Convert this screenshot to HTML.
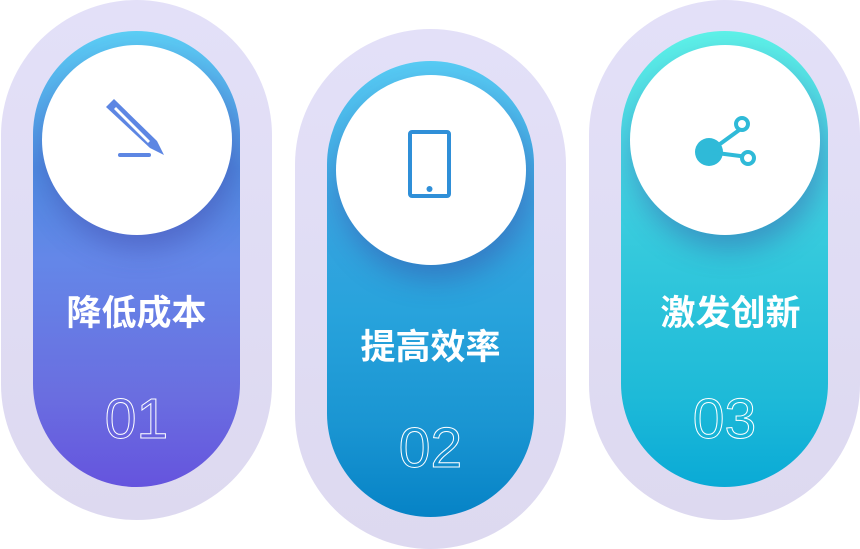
<!DOCTYPE html>
<html><head><meta charset="utf-8"><style>
body{margin:0;width:860px;height:549px;background:#fff;position:relative;overflow:hidden;font-family:"Liberation Sans","Noto Sans CJK SC",sans-serif}
.o{position:absolute;width:271px;height:520px;border-radius:136px;background:linear-gradient(#e3e0f8,#ddd9f0)}
.i{position:absolute;left:32px;top:31px;width:207px;height:456px;border-radius:104px;overflow:hidden}
.c{position:absolute;left:9px;top:14px;width:190px;height:190px;border-radius:50%;background:radial-gradient(circle at 50% 45%,#fff 75%,#f1f1f1 100%);box-shadow:4px 14px 28px rgba(60,50,150,.35)}
.t{position:absolute;left:0;width:207px;text-align:center;color:#fff;font-size:35px;font-weight:bold;top:260px;line-height:46px}
.n{position:absolute;left:0;width:207px;text-align:center;color:transparent;-webkit-text-stroke:1px #fff;font-size:57px;line-height:57px;top:360px;font-family:"Liberation Sans",sans-serif}
</style></head><body>
<div class="o" style="left:1px;top:0">
 <div class="i" style="background:linear-gradient(#5ccff5 0%,#4e8ae0 30%,#6487e8 50%,#6a6ee0 80%,#6554de 100%)">
  <div class="c"><svg width="190" height="190" style="position:absolute;left:0;top:0"><g fill="#5d86e3"><polygon points="64,62 72,54 115,96 122,110 108,103"/><polygon points="72,64 74,62 108,96 106,98" fill="#fff"/><rect x="76" y="108" width="33" height="4" rx="2"/></g></svg></div>
  <div class="t">降低成本</div><div class="n">01</div>
 </div>
</div>
<div class="o" style="left:295px;top:29px">
 <div class="i" style="top:32px;background:linear-gradient(#58ccf4 0%,#3aa4e0 30%,#28a3dc 55%,#1a95d2 80%,#0683c6 100%)">
  <div class="c"><svg width="190" height="190" style="position:absolute;left:0;top:0"><rect x="74" y="57" width="39" height="64" rx="2" fill="none" stroke="#2f8fd8" stroke-width="4"/><circle cx="93.5" cy="114" r="3" fill="#2f8fd8"/></svg></div>
  <div class="t" style="top:264px">提高效率</div><div class="n" style="top:359px">02</div>
 </div>
</div>
<div class="o" style="left:589px;top:0">
 <div class="i" style="background:linear-gradient(#5ef2e8 0%,#48d4e2 25%,#33c8dc 50%,#1ebad8 80%,#0aaad6 100%)">
  <div class="c"><svg width="190" height="190" style="position:absolute;left:0;top:0"><g fill="#2fbad8" stroke="#2fbad8"><circle cx="79" cy="107" r="14" stroke="none"/><line x1="79" y1="107" x2="112" y2="83" stroke-width="4"/><line x1="79" y1="107" x2="118" y2="112" stroke-width="4"/><circle cx="112" cy="79" r="6" fill="#fff" stroke-width="4"/><circle cx="118" cy="113" r="6" fill="#fff" stroke-width="4"/></g></svg></div>
  <div class="t" style="left:6px">激发创新</div><div class="n">03</div>
 </div>
</div>
</body></html>
